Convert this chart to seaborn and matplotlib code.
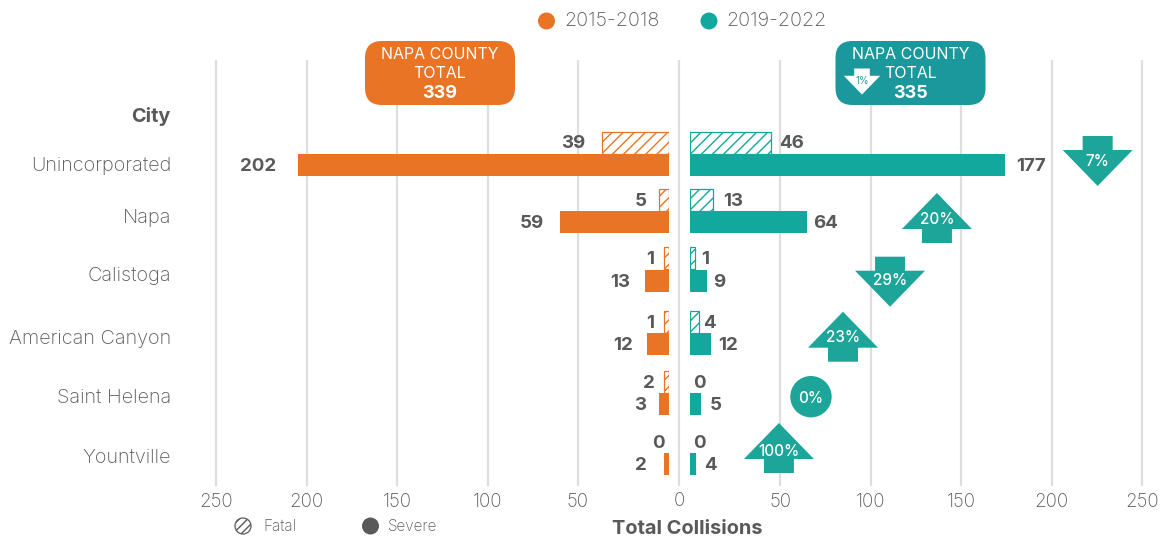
import numpy as np
import pandas as pd
import matplotlib
matplotlib.use("Agg")
import matplotlib.pyplot as plt
from matplotlib.patches import Circle, FancyBboxPatch, Polygon
import seaborn as sns

# ---------- data ----------
cities = ["Unincorporated", "Napa", "Calistoga", "American Canyon", "Saint Helena", "Yountville"]
severe_early = [204.5, 59.7, 13, 11.9, 5.2, 2.5]      # drawn bar lengths
severe_late = [174.3, 64.7, 9.6, 11.9, 6.6, 3.6]
fatal_early = [37, 5, 2.5, 2.5, 2.7, 0]
fatal_late = [45, 13, 2.8, 5.3, 0, 0]
severe_early_labels = ["202", "59", "13", "12", "3", "2"]
severe_late_labels = ["177", "64", "9", "12", "5", "4"]
fatal_early_labels = ["39", "5", "1", "1", "2", "0"]
fatal_late_labels = ["46", "13", "1", "4", "0", "0"]
change_labels = ["7%", "20%", "29%", "23%", "0%", "100%"]
change_dirs = ["down", "up", "down", "up", "flat", "up"]
change_pos = [225.5, 136.7, 110.8, 84.8, 67.1, 49.4]
axis_ticks = [50, 100, 150, 200, 250]
period_labels = ["2015-2018", "2019-2022"]
county_totals = ["339", "335"]
county_change = "1%"

# ---------- layout (figure pixels) ----------
W, H = 1162, 540
ORANGE, TEAL, ARROW, BADGE_T, INK, GRID = "#E97425", "#12A89D", "#1DA599", "#1A989B", "#58595B", "#DEDEDE"
row_severe = np.array([165, 222, 281, 344, 404, 464])
row_fatal = np.array([142.5, 199.5, 258, 322, 382, 442])
row_city = [164.5, 216.5, 274.5, 337.5, 396.5, 456.5]
arrow_top = [136, 193, 256.7, 311.7, 376, 423]
arrow_label_y = [160, 218, 279, 336.5, 396.7, 450.5]
lab_severe_early_x = [258, 532, 620, 623, 640, 641]
lab_severe_late_x = [1031, 826, 719, 728, 716, 710]
lab_fatal_early_x = [573, 641, 650, 650, 649, 658]
lab_fatal_late_x = [792, 733, 705, 709, 699, 699]
BAR_H = 22
PX = 1.81
Y_TOP, Y_BOT = 60, 486
TEXT_SHIFT = 1.5

sns.set_theme(style="white")
plt.rcParams["font.family"] = ["Inter", "DejaVu Sans"]
plt.rcParams["hatch.linewidth"] = 1.0

fig = plt.figure(figsize=(W / 100, H / 100), dpi=100, facecolor="white")


def make_axes(x0, x1):
    return fig.add_axes([x0 / W, 1 - Y_BOT / H, (x1 - x0) / W, (Y_BOT - Y_TOP) / H])


ax_l = make_axes(668.5 - 254 * PX, 668.5)
ax_r = make_axes(689.5, 689.5 + 254 * PX)

frame = pd.DataFrame({
    "city": cities, "row_s": row_severe, "row_f": row_fatal,
    "se": severe_early, "sl": severe_late, "fe": fatal_early, "fl": fatal_late,
})


def bars(ax, col, rowcol, **kw):
    d = frame[frame[col] > 0]
    step = np.diff(np.sort(d[rowcol].to_numpy())).min()
    sns.barplot(data=d, x=col, y=rowcol, orient="y", native_scale=True, errorbar=None,
                width=BAR_H / step, saturation=1, ax=ax, **kw)


for ax, sev, fat, col in [(ax_l, "se", "fe", ORANGE), (ax_r, "sl", "fl", TEAL)]:
    bars(ax, fat, "row_f", color="white", edgecolor=col, hatch="///", linewidth=0.9)
    bars(ax, sev, "row_s", color=col, linewidth=0)
    ax.set_ylim(Y_BOT, Y_TOP)
    ax.set_xticks(axis_ticks)
    ax.set_xticklabels([str(t) for t in axis_ticks], fontsize=13.5, color=INK, fontweight="light")
    ax.tick_params(axis="x", length=0, pad=5)
    ax.tick_params(axis="y", left=False, labelleft=False)
    ax.set_xlabel("")
    ax.set_ylabel("")
    ax.grid(axis="x", color=GRID, linewidth=1.6)
    ax.grid(axis="y", visible=False)
    ax.set_axisbelow(True)
    ax.patch.set_alpha(0)
    sns.despine(ax=ax, left=True, bottom=True)
ax_l.set_xlim(254, 0)
ax_r.set_xlim(0, 254)

# ---------- pixel overlay for annotations ----------
ov = fig.add_axes([0, 0, 1, 1], zorder=5)
ov.set_xlim(0, W)
ov.set_ylim(H, 0)
ov.axis("off")
ov.patch.set_alpha(0)

ov.plot([679, 679], [Y_TOP, Y_BOT], color=GRID, lw=1.6, zorder=0, solid_capstyle="butt")
ov.text(679, 501.5, "0", ha="center", va="center", fontsize=13.5, color=INK, fontweight="light")


def txt(x, y, s, size=13.5, weight="normal", color=INK, ha="center"):
    ov.text(x, y + TEXT_SHIFT, s, ha=ha, va="center", fontsize=size, fontweight=weight, color=color, zorder=8)


for i, c in enumerate(cities):
    txt(171, row_city[i], c, size=14.3, weight="light", ha="right")
    txt(lab_severe_early_x[i], row_severe[i], severe_early_labels[i], weight="bold", size=13.5)
    txt(lab_severe_late_x[i], row_severe[i], severe_late_labels[i], weight="bold", size=13.5)
    txt(lab_fatal_early_x[i], row_fatal[i], fatal_early_labels[i], weight="bold", size=13.5)
    txt(lab_fatal_late_x[i], row_fatal[i], fatal_late_labels[i], weight="bold", size=13.5)
txt(171, 115, "City", size=14.3, weight="bold", ha="right")
txt(687, 527, "Total Collisions", size=14.4, weight="bold")


def arrow_points(cx, top, direction, scale=1.0):
    hw, sw = 35 * scale, 15 * scale
    if direction == "down":
        return [(cx - sw, top), (cx + sw, top), (cx + sw, top + 14 * scale), (cx + hw, top + 14 * scale),
                (cx, top + 50 * scale), (cx - hw, top + 14 * scale), (cx - sw, top + 14 * scale)]
    return [(cx, top), (cx + hw, top + 36 * scale), (cx + sw, top + 36 * scale), (cx + sw, top + 50 * scale),
            (cx - sw, top + 50 * scale), (cx - sw, top + 36 * scale), (cx - hw, top + 36 * scale)]


for i, lab in enumerate(change_labels):
    cx = ax_r.transData.transform((change_pos[i], 0))[0]
    if change_dirs[i] == "flat":
        ov.add_patch(Circle((cx, arrow_label_y[i]), 20.7, color=ARROW, lw=0, zorder=6))
    else:
        ov.add_patch(Polygon(arrow_points(cx, arrow_top[i], change_dirs[i]), closed=True, color=ARROW, lw=0, zorder=6))
    txt(cx, arrow_label_y[i], lab, size=11, weight="medium", color="white")

# county total badges
for x0, col, total in [(365, ORANGE, county_totals[0]), (835.5, BADGE_T, county_totals[1])]:
    w, h, r = 150, 64, 17
    ov.add_patch(FancyBboxPatch((x0 + r, 41 + r), w - 2 * r, h - 2 * r, boxstyle=f"round,pad={r},rounding_size={r}",
                                fc=col, ec="none", zorder=6))
    cx = x0 + w / 2
    txt(cx, 53, "NAPA COUNTY", size=11.5, weight="normal", color="white")
    txt(cx, 72, "TOTAL", size=11.5, weight="normal", color="white")
    txt(cx, 91.5, total, size=13, weight="bold", color="white")
ov.add_patch(Polygon(arrow_points(862, 68.5, "down", 0.52), closed=True, color="white", lw=0, zorder=7))
txt(862, 79.5, county_change, size=7, color=BADGE_T)

# legends
for cx, tx, col, lab in [(546.5, 564, ORANGE, period_labels[0]), (709, 726, TEAL, period_labels[1])]:
    ov.add_patch(Circle((cx, 21), 8.5, color=col, lw=0))
    txt(tx, 20, lab, size=14.2, weight="light", ha="left")
ov.add_patch(Circle((243, 526), 8, fc="white", ec=INK, lw=0.9, hatch="////"))
ov.add_patch(Circle((370.5, 526), 8.5, color=INK, lw=0))
txt(263, 525, "Fatal", size=11, weight="light", ha="left")
txt(388, 525, "Severe", size=11, weight="light", ha="left")

fig.savefig("out.png", dpi=100)
